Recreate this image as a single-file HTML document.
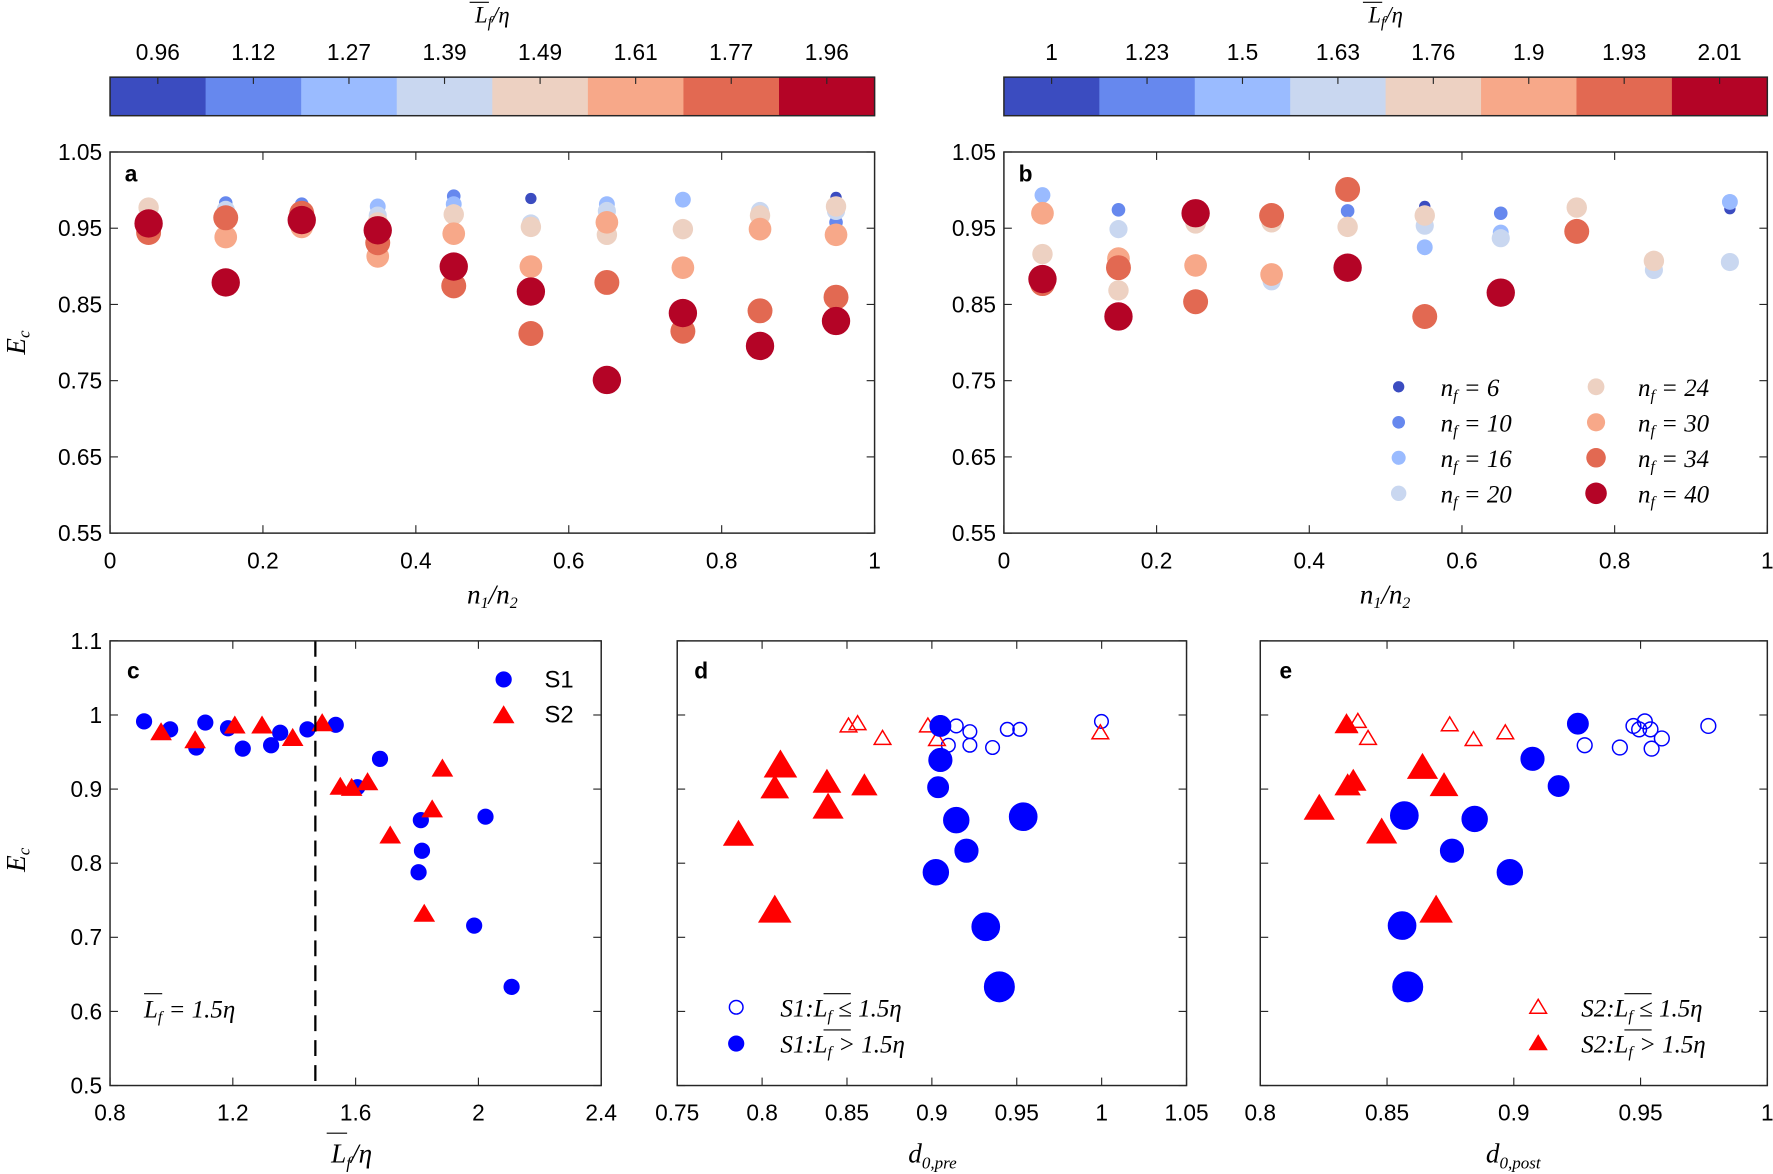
<!DOCTYPE html>
<html><head><meta charset="utf-8"><style>
html,body{margin:0;padding:0;background:#fff}
svg{display:block}
text{font-family:"Liberation Sans",sans-serif;fill:#000}
.m{font-family:"Liberation Serif",serif;font-style:italic}
</style></head><body>
<svg id="s" width="1773" height="1174" viewBox="0 0 1563 1035" preserveAspectRatio="none" xmlns="http://www.w3.org/2000/svg"></svg>
<script>
const S=document.getElementById('s');let h='';
const C=['#3b4cc0','#6688ee','#9abbff','#c9d7f0','#edd1c2','#f7a889','#e26952','#b40426'];
const R=[5,6,7,8,9,10,11,12.5];
function t(x,y,s,sz,anc,cls){h+=`<text x="${x}" y="${y}" font-size="${sz||20}" text-anchor="${anc||'middle'}" ${cls?'class="'+cls+'"':''}>${s}</text>`;}
function box(x0,y0,x1,y1){h+=`<rect x="${x0}" y="${y0}" width="${x1-x0}" height="${y1-y0}" fill="none" stroke="#262626" stroke-width="1.3"/>`;}
function xt(x0,x1,y0,y1,vals,lab){const n=vals.length;for(let i=0;i<n;i++){const x=x0+(x1-x0)*i/(n-1);h+=`<line x1="${x}" y1="${y1}" x2="${x}" y2="${y1-7}" stroke="#262626"/><line x1="${x}" y1="${y0}" x2="${x}" y2="${y0+7}" stroke="#262626"/>`;t(x,y1+31,vals[i],20);}}
function yt(x0,x1,y0,y1,vals){const n=vals.length;for(let i=0;i<n;i++){const y=y1-(y1-y0)*i/(n-1);h+=`<line x1="${x0}" y1="${y}" x2="${x0+7}" y2="${y}" stroke="#262626"/><line x1="${x1}" y1="${y}" x2="${x1-7}" y2="${y}" stroke="#262626"/>`;t(x0-7,y+7,vals[i],20,'end');}}
function cb(x0,x1,labs){const w=(x1-x0)/8;for(let i=0;i<8;i++){h+=`<rect x="${x0+i*w}" y="68" width="${w+0.5}" height="34" fill="${C[i]}"/>`;const cx=x0+w*(i+0.5);h+=`<line x1="${cx}" y1="68" x2="${cx}" y2="74" stroke="#262626"/>`;t(cx,53,labs[i],20);}
h+=`<rect x="${x0}" y="68" width="${x1-x0}" height="34" fill="none" stroke="#262626" stroke-width="1.3"/>`;
const mx=(x0+x1)/2;t(mx,20,'L<tspan font-size="14" dy="4">f</tspan><tspan dy="-4">/η</tspan>',20,'middle','m');h+=`<line x1="${mx-20}" y1="2" x2="${mx-3}" y2="2" stroke="#000"/>`;}
cb(97,771,['0.96','1.12','1.27','1.39','1.49','1.61','1.77','1.96']);
cb(885,1558,['1','1.23','1.5','1.63','1.76','1.9','1.93','2.01']);
const yl=['0.55','0.65','0.75','0.85','0.95','1.05'];const xl=['0','0.2','0.4','0.6','0.8','1'];
function circ(x,y,r,c){h+=`<circle cx="${x}" cy="${y}" r="${r}" fill="${c}"/>`;}
const A={131:[[4,183],[6,205],[7,197]],199:[[1,179],[3,185],[5,209],[6,192],[7,249]],266:[[1,180],[5,200],[6,188],[7,194]],333:[[2,182],[3,190],[4,196],[5,226],[6,214],[7,203]],400:[[1,173],[2,180],[4,189],[5,206],[6,252],[7,235]],468:[[0,175],[3,197],[4,200],[5,235],[6,294],[7,257]],535:[[2,180],[3,186],[4,207],[5,196],[6,249],[7,335]],602:[[2,176],[4,202],[5,236],[6,292],[7,276]],670:[[3,186],[4,190],[5,202],[6,274],[7,305]],737:[[0,174],[1,196],[3,186],[4,182],[5,207],[6,262],[7,283]]};
const B={919:[[2,172],[4,224],[5,188],[6,250],[7,246]],986:[[1,185],[3,202],[4,256],[5,228],[6,236],[7,279]],1054:[[4,197],[5,234],[6,266],[7,188]],1121:[[3,248],[4,196],[5,242],[6,190]],1188:[[1,186],[4,200],[6,167],[7,236]],1256:[[0,182],[2,218],[3,199],[4,190],[6,279]],1323:[[1,188],[2,205],[3,210],[7,258]],1390:[[4,183],[6,204]],1458:[[3,238],[4,230]],1525:[[0,184],[2,178],[3,231]]};
function panel(D){for(const k in D){D[k].sort((a,b)=>a[0]-b[0]).forEach(p=>circ(+k,p[1],R[p[0]],C[p[0]]));}}
panel(A);panel(B);
box(97,134,771,470);yt(97,771,134,470,yl);xt(97,771,134,470,xl);
box(885,134,1558,470);yt(885,1558,134,470,yl);xt(885,1558,134,470,xl);
t(110,160,'a',20,'start');
t(898,160,'b',20,'start');
t(434,532,'n<tspan font-size="14" dy="4">1</tspan><tspan dy="-4">/n</tspan><tspan font-size="14" dy="4">2</tspan>',24,'middle','m');
t(1221,532,'n<tspan font-size="14" dy="4">1</tspan><tspan dy="-4">/n</tspan><tspan font-size="14" dy="4">2</tspan>',24,'middle','m');
h+=`<text transform="translate(22,302) rotate(-90)" font-size="24" text-anchor="middle" class="m">E<tspan font-size="15" dy="4">c</tspan></text>`;
h+=`<text transform="translate(22,758) rotate(-90)" font-size="24" text-anchor="middle" class="m">E<tspan font-size="15" dy="4">c</tspan></text>`;
const nf=[6,10,16,20,24,30,34,40];
for(let i=0;i<8;i++){const col=i<4?0:1,row=i%4;const x=col?1407:1233,y=341+row*31.3;circ(x,y,R[i]*0.6+2,C[i]);t(x+37,y+8,`n<tspan font-size="14" dy="4">f</tspan><tspan dy="-4"> = ${nf[i]}</tspan>`,22,'start','m');}
function tri(x,y,s,fill){const hgt=s*1.0;h+=`<polygon points="${x},${y-hgt} ${x-hgt*1.05},${y+hgt*0.75} ${x+hgt*1.05},${y+hgt*0.75}" fill="${fill?'#f00':'none'}" stroke="#f00" stroke-width="1.3"/>`;}
function oc(x,y,r,fill){h+=`<circle cx="${x}" cy="${y}" r="${r}" fill="${fill?'#00f':'none'}" stroke="#00f" stroke-width="1.3"/>`;}
[[127,636],[150,643],[173,659],[181,637],[201,642],[214,660],[239,657],[247,646],[271,643],[296,639],[315,694],[335,669],[369,769],[371,723],[372,750],[428,720],[418,816],[451,870]].forEach(p=>oc(p[0],p[1],6.5,1));
[[142,646],[172,653],[207,640],[231,640],[258,651],[284,638],[300,694],[310,695],[324,690],[344,737],[381,714],[390,678],[374,806]].forEach(p=>tri(p[0],p[1],8,1));
h+=`<line x1="278" y1="565" x2="278" y2="957" stroke="#000" stroke-width="2" stroke-dasharray="14,8"/>`;
oc(444,599,6.5,1);t(480,606,'S1',21,'start');tri(444,631,8,1);t(480,637,'S2',21,'start');
t(127,897,'L<tspan font-size="14" dy="4">f</tspan><tspan dy="-4"> = 1.5η</tspan>',22,'start','m');h+=`<line x1="127" y1="876" x2="143" y2="876" stroke="#000"/>`;
t(112,598,'c',20,'start');
box(97,565,530,957);yt(97,530,565,957,['0.5','0.6','0.7','0.8','0.9','1','1.1']);xt(97,530,565,957,['0.8','1.2','1.6','2','2.4']);
t(310,1025,'L<tspan font-size="15" dy="5">f</tspan><tspan dy="-5">/η</tspan>',24,'middle','m');h+=`<line x1="288" y1="999" x2="306" y2="999" stroke="#000"/>`;
[[829,637],[843,640],[855,645],[855,657],[836,657],[875,659],[888,643],[899,643],[971,636]].forEach(p=>oc(p[0],p[1],6,0));
[[748,640],[756,638],[778,651],[818,640],[826,652],[970,646]].forEach(p=>tri(p[0],p[1],7,0));
[[829,640,9],[829,670,10],[827,694,9],[843,723,11],[852,750,10],[825,769,11],[869,817,12],[881,870,13],[902,720,12]].forEach(p=>oc(p[0],p[1],p[2],1));
[[688,675,13],[683,695,11],[729,690,11],[762,693,10],[730,712,12],[651,736,12],[683,803,13]].forEach(p=>tri(p[0],p[1],p[2],1));
oc(649,888,6,0);oc(649,920,6.5,1);
t(688,896,'S1:L<tspan font-size="14" dy="4">f</tspan><tspan dy="-4"> ≤ 1.5η</tspan>',22,'start','m');h+=`<line x1="726" y1="876" x2="750" y2="876" stroke="#000"/>`;
t(688,928,'S1:L<tspan font-size="14" dy="4">f</tspan><tspan dy="-4"> &gt; 1.5η</tspan>',22,'start','m');h+=`<line x1="726" y1="908" x2="750" y2="908" stroke="#000"/>`;
t(612,598,'d',20,'start');
box(597,565,1046,957);yt(597,1046,565,957,['','','','','','','']);xt(597,1046,565,957,['0.75','0.8','0.85','0.9','0.95','1','1.05']);
t(822,1025,'d<tspan font-size="15" dy="5">0,pre</tspan>',24,'middle','m');
[[1397,657],[1428,659],[1440,640],[1445,643],[1450,636],[1455,643],[1456,660],[1465,651],[1506,640]].forEach(p=>oc(p[0],p[1],6.5,0));
[[1189,640],[1197,636],[1206,651],[1278,639],[1299,652],[1327,646]].forEach(p=>tri(p[0],p[1],7,0));
[[1391,638,9],[1351,669,10],[1374,693,9],[1300,722,11],[1238,719,12],[1280,750,10],[1331,769,11],[1236,816,12],[1241,870,13]].forEach(p=>oc(p[0],p[1],p[2],1));
[[1187,639,9],[1188,693,10],[1193,689,10],[1254,677,12],[1273,693,11],[1163,713,12],[1218,734,12],[1266,803,13]].forEach(p=>tri(p[0],p[1],p[2],1));
tri(1356,888,7,0);tri(1356,920,7,1);
t(1394,896,'S2:L<tspan font-size="14" dy="4">f</tspan><tspan dy="-4"> ≤ 1.5η</tspan>',22,'start','m');h+=`<line x1="1432" y1="876" x2="1456" y2="876" stroke="#000"/>`;
t(1394,928,'S2:L<tspan font-size="14" dy="4">f</tspan><tspan dy="-4"> &gt; 1.5η</tspan>',22,'start','m');h+=`<line x1="1432" y1="908" x2="1456" y2="908" stroke="#000"/>`;
t(1128,598,'e',20,'start');
box(1111,565,1558,957);yt(1111,1558,565,957,['','','','','','','']);xt(1111,1558,565,957,['0.8','0.85','0.9','0.95','1']);
t(1334,1025,'d<tspan font-size="15" dy="5">0,post</tspan>',24,'middle','m');
S.innerHTML=h;
S.querySelectorAll('text').forEach(e=>{if(['a','b','c','d','e'].includes(e.textContent)&&e.getAttribute('text-anchor')=='start'){e.setAttribute('font-weight','bold');e.setAttribute('font-family','Liberation Serif');}});
</script>
</body></html>
